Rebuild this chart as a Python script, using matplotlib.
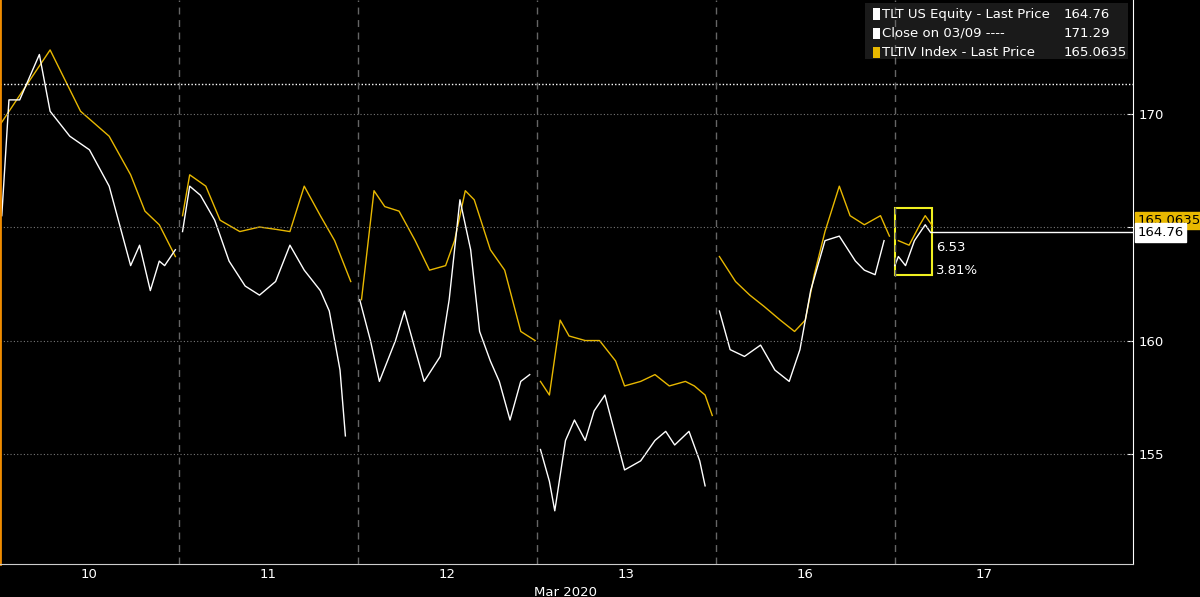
import matplotlib
matplotlib.use('Agg')
import matplotlib.pyplot as plt
from matplotlib.patches import Rectangle

# x positions in trading-day units (day i spans [i, i+1])
tlt_x = [0.01, 0.05, 0.11, 0.22, 0.28, 0.39, 0.50, 0.61, 0.73, 0.78, 0.84, 0.89, 0.92, 0.98,
         1.02, 1.06, 1.12, 1.20, 1.28, 1.37, 1.45, 1.54, 1.62, 1.70, 1.79, 1.84, 1.90, 1.93,
         2.01, 2.07, 2.12, 2.21, 2.26, 2.32, 2.37, 2.46, 2.51, 2.57, 2.63, 2.68, 2.74, 2.79, 2.85, 2.91, 2.96,
         3.02, 3.07, 3.10, 3.16, 3.21, 3.27, 3.32, 3.38, 3.44, 3.49, 3.58, 3.66, 3.72, 3.77, 3.85, 3.91, 3.94,
         4.02, 4.08, 4.16, 4.25, 4.33, 4.41, 4.47, 4.53, 4.61, 4.69, 4.78, 4.83, 4.89, 4.94, 5.00,
         5.02, 5.06, 5.11, 5.17, 5.20]
tlt_y = [165.5, 170.6, 170.6, 172.6, 170.1, 169.0, 168.4, 166.8, 163.3, 164.2, 162.2, 163.5, 163.3, 164.0,
         164.8, 166.8, 166.4, 165.3, 163.5, 162.4, 162.0, 162.6, 164.2, 163.1, 162.2, 161.3, 158.7, 155.8,
         161.8, 160.0, 158.2, 160.0, 161.3, 159.6, 158.2, 159.3, 161.8, 166.2, 164.0, 160.4, 159.1, 158.2, 156.5, 158.2, 158.5,
         155.2, 153.8, 152.5, 155.6, 156.5, 155.6, 156.9, 157.6, 155.8, 154.3, 154.7, 155.6, 156.0, 155.4, 156.0, 154.7, 153.6,
         161.3, 159.6, 159.3, 159.8, 158.7, 158.2, 159.6, 162.2, 164.4, 164.6, 163.5, 163.1, 162.9, 164.4, 163.3,
         163.7, 163.3, 164.4, 165.1, 164.76]
tltiv_x = [0.00, 0.11, 0.28, 0.45, 0.61, 0.73, 0.81, 0.89, 0.98,
           1.02, 1.06, 1.15, 1.23, 1.34, 1.45, 1.54, 1.62, 1.70, 1.79, 1.87, 1.96,
           2.02, 2.09, 2.15, 2.23, 2.32, 2.40, 2.49, 2.54, 2.60, 2.65, 2.74, 2.82, 2.91, 2.99,
           3.02, 3.07, 3.13, 3.18, 3.27, 3.35, 3.44, 3.49, 3.58, 3.66, 3.74, 3.83, 3.88, 3.94, 3.98,
           4.02, 4.11, 4.19, 4.27, 4.36, 4.44, 4.50, 4.55, 4.61, 4.69, 4.75, 4.83, 4.92, 4.97,
           5.02, 5.08, 5.14, 5.17, 5.21]
tltiv_y = [169.5, 170.8, 172.8, 170.1, 169.0, 167.3, 165.7, 165.1, 163.7,
           165.5, 167.3, 166.8, 165.3, 164.8, 165.0, 164.9, 164.8, 166.8, 165.5, 164.4, 162.6,
           161.8, 166.6, 165.9, 165.7, 164.4, 163.1, 163.3, 164.4, 166.6, 166.2, 164.0, 163.1, 160.4, 160.0,
           158.2, 157.6, 160.9, 160.2, 160.0, 160.0, 159.1, 158.0, 158.2, 158.5, 158.0, 158.2, 158.0, 157.6, 156.7,
           163.7, 162.6, 162.0, 161.5, 160.9, 160.4, 160.9, 162.9, 164.8, 166.8, 165.5, 165.1, 165.5, 164.6,
           164.4, 164.2, 165.1, 165.5, 165.06]
prev_close = 171.29
day_labels = ['10', '11', '12', '13', '16', '17']
legend_rows = [('TLT US Equity - Last Price', '164.76', 'white'),
               ('Close on 03/09 ----', '171.29', 'white'),
               ('TLTIV Index - Last Price', '165.0635', '#e8b800')]

yellow = '#e8b800'
fs = 9.5
fig = plt.figure(figsize=(12, 5.97), dpi=100, facecolor='black')
ax = fig.add_axes([0.0, 0.055, 0.944, 0.945], facecolor='black')

def plot_sessions(xs, ys, color):
    # one line per trading day, so sessions are not joined
    for d in range(6):
        px = [x for x in xs if d <= x < d + 1]
        py = [y for x, y in zip(xs, ys) if d <= x < d + 1]
        ax.plot(px, py, color=color, lw=1.0)

plot_sessions(tltiv_x, tltiv_y, yellow)
plot_sessions(tlt_x, tlt_y, 'white')
ax.axhline(prev_close, color='white', ls=(0, (1, 1.5)), lw=1)
ax.plot([tlt_x[-1], 6.33], [tlt_y[-1], tlt_y[-1]], color='white', lw=1)

ax.set_xlim(0, 6.33)
ax.set_ylim(150.15, 175.0)
for d in range(1, 6):
    ax.axvline(d, color='#666666', ls=(0, (5, 4)), lw=1)
for v in [155, 160, 165, 170]:
    ax.axhline(v, color='#777777', ls=(0, (1, 2)), lw=0.8)

ax.yaxis.tick_right()
ax.set_yticks([155, 160, 165, 170])
ax.set_yticklabels(['155', '160', '', '170'])
ax.set_xticks([i + 0.5 for i in range(6)])
ax.set_xticklabels(day_labels)
ax.tick_params(colors='white', labelsize=fs, length=0, pad=3)
ax.tick_params(axis='y', length=4, direction='in', pad=4)
ax.spines['top'].set_visible(False)
ax.spines['right'].set_color('white')
ax.spines['bottom'].set_color('#cccccc')
ax.spines['left'].set_color('#f08c00')
ax.spines['left'].set_linewidth(2)
ax.text(3.16, -0.038, 'Mar 2020', transform=ax.get_xaxis_transform(), color='white',
        ha='center', va='top', fontsize=fs)

# value tags on the right axis
ax.text(1.004, 165.0, '165.0635', transform=ax.get_yaxis_transform(), color='black', fontsize=fs,
        va='bottom', ha='left', bbox=dict(boxstyle='square,pad=0.15', fc=yellow, ec=yellow), clip_on=False)
ax.text(1.004, 164.76, '164.76', transform=ax.get_yaxis_transform(), color='black', fontsize=fs,
        va='center', ha='left', bbox=dict(boxstyle='square,pad=0.2', fc='white', ec='white'), clip_on=False)

# highlight box and change annotations
ax.add_patch(Rectangle((5.0, 162.9), 0.21, 2.95, fill=False, ec='#f0f020', lw=1.5))
ax.text(5.23, 164.1, '6.53', color='white', fontsize=fs, va='center')
ax.text(5.23, 163.1, '3.81%', color='white', fontsize=fs, va='center')

# legend
ax.add_patch(Rectangle((0.764, 0.895), 0.232, 0.1, transform=ax.transAxes, fc='#1a1a1a', ec='none'))
for i, (name, val, c) in enumerate(legend_rows):
    yy = 0.975 - i * 0.034
    ax.add_patch(Rectangle((0.771, yy - 0.01), 0.006, 0.02, transform=ax.transAxes, fc=c, ec='none'))
    ax.text(0.779, yy, name, transform=ax.transAxes, color='white', fontsize=fs, va='center')
    ax.text(0.939, yy, val, transform=ax.transAxes, color='white', fontsize=fs, va='center')

fig.savefig('out.png', dpi=100, facecolor='black')
